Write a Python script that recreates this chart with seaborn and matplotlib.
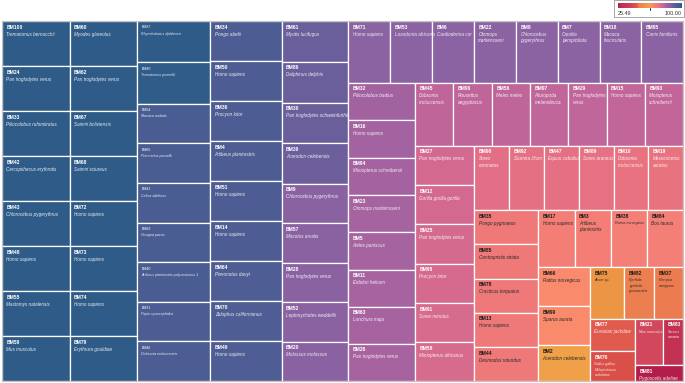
import numpy as np
import pandas as pd
import matplotlib
matplotlib.use("Agg")
import matplotlib.pyplot as plt
import seaborn as sns
from matplotlib.colors import LinearSegmentedColormap, Normalize
from matplotlib.patches import Rectangle
from matplotlib.lines import Line2D
from matplotlib.textpath import TextToPath
from matplotlib.font_manager import FontProperties

# ---------------- data ----------------
ids = [
    "BM100", "BM24", "BM33", "BM42", "BM43", "BM48", "BM55", "BM59",
    "BM60", "BM62", "BM67", "BM68", "BM72", "BM73", "BM74", "BM79",
    "BM87", "BM80", "BM54", "BM65", "BM41", "BM69", "BM40", "BM31", "BM46",
    "BM34", "BM50", "BM36", "BM4", "BM51", "BM14", "BM64", "BM70", "BM49",
    "BM61", "BM86", "BM30", "BM39", "BM9", "BM57", "BM28", "BM52", "BM20",
    "BM71", "BM53", "BM6", "BM22", "BM8", "BM7", "BM18", "BM95",
    "BM32", "BM16", "BM94", "BM23", "BM5", "BM11", "BM63", "BM26",
    "BM45", "BM96", "BM56", "BM97", "BM29", "BM15", "BM93",
    "BM27", "BM12", "BM25", "BM98", "BM91", "BM58",
    "BM90", "BM92", "BM47", "BM89", "BM10", "BM19",
    "BM35", "BM85", "BM78", "BM13", "BM44",
    "BM17", "BM3", "BM38", "BM84",
    "BM66", "BM99", "BM2",
    "BM75", "BM82", "BM37",
    "BM77", "BM76", "BM21", "BM83", "BM81",
]
species = [
    "Trematomus bernacchii", "Pan troglodytes verus", "Piliocolobus rufomitratus",
    "Cercopithecus erythrotis", "Chlorocebus pygerythrus", "Homo sapiens",
    "Mastomys natalensis", "Mus musculus",
    "Myodes glareolus", "Pan troglodytes verus", "Saimiri boliviensis",
    "Saimiri sciureus", "Homo sapiens", "Homo sapiens", "Homo sapiens",
    "Erythrura gouldiae",
    "Rhynchobatus djiddensis", "Trematomus pennellii", "Macaca mulatta",
    "Pteronotus parnellii", "Cebus albifrons", "Vicugna pacos",
    "Artibeus planirostris polyomavirus 1", "Papio cynocephalus",
    "Dobsonia moluccensis",
    "Pongo abelii", "Homo sapiens", "Procyon lotor", "Artibeus planirostris",
    "Homo sapiens", "Homo sapiens", "Pteronotus davyi", "Zalophus californianus",
    "Homo sapiens",
    "Myotis lucifugus", "Delphinus delphis", "Pan troglodytes schweinfurthii",
    "Acerodon celebensis", "Chlorocebus pygerythrus", "Microtus arvalis",
    "Pan troglodytes verus", "Leptonychotes weddellii", "Molossus molossus",
    "Homo sapiens", "Loxodonta africana", "Cardioderma cor",
    "Otomops martiensseni", "Chlorocebus pygerythrus", "Carollia perspicillata",
    "Macaca fascicularis", "Canis familiaris",
    "Piliocolobus badius", "Homo sapiens", "Miniopterus schreibersii",
    "Otomops martiensseni", "Ateles paniscus", "Eidolon helvum",
    "Lonchura maja", "Pan troglodytes verus",
    "Dobsonia moluccensis", "Rousettus aegyptiacus", "Meles meles",
    "Ailuropoda melanoleuca", "Pan troglodytes verus", "Homo sapiens",
    "Miniopterus schreibersii",
    "Pan troglodytes verus", "Gorilla gorilla gorilla", "Pan troglodytes verus",
    "Procyon lotor", "Sorex minutus", "Miniopterus africanus",
    "Sorex coronatus", "Sturnira lilium", "Equus caballus", "Sorex araneus",
    "Dobsonia moluccensis", "Mesocricetus auratus",
    "Pongo pygmaeus", "Centropristis striata", "Cracticus torquatus",
    "Homo sapiens", "Desmodus rotundus",
    "Homo sapiens", "Artibeus planirostris", "Rattus norvegicus", "Bos taurus",
    "Rattus norvegicus", "Sparus aurata", "Acerodon celebensis",
    "Anser sp.", "Pyrrhula pyrrhula griseiventris", "Pteropus vampyrus",
    "Eurasian jackdaw", "Gallus gallus; Melopsittacus undulatus",
    "Mus musculus", "Serinus canaria", "Pygoscelis adeliae",
]
values = [
    100, 100, 100, 100, 100, 100, 100, 100,
    100, 100, 100, 100, 100, 100, 100, 100,
    99.8, 99.6, 95.85, 95.75, 95.7, 95.6, 95.55, 95.5, 95.35,
    94.3, 94.2, 94.1, 94.0, 93.9, 93.8, 93.7, 93.6, 93.4,
    89.6, 89.3, 89.0, 88.7, 87.0, 86.8, 86.6, 86.3, 86.0,
    85.3, 85.2, 85.1, 85.0, 84.9, 84.85, 84.8, 84.75,
    82.3, 82.2, 82.0, 81.9, 81.8, 81.7, 81.6, 81.5,
    79.8, 79.7, 79.5, 79.4, 79.3, 79.15, 79.05,
    77.0, 76.8, 76.6, 76.5, 76.3, 76.2,
    74.0, 73.8, 73.7, 73.6, 73.4, 73.3,
    72.3, 72.15, 72.05, 71.95, 71.85,
    68.5, 68.3, 68.2, 68.0,
    66.3, 66.0, 61.2,
    57.6, 50.2, 48.6,
    48.4, 43.6, 43.4, 30.0, 25.49,
]

# ---------------- style ----------------
COLOR_STOPS = [  # (value, colour)
    (25.49, "#b41c4a"), (30.0, "#c23052"), (43.4, "#d1485c"), (43.6, "#da5049"),
    (48.4, "#e05a4e"), (48.6, "#ec7d50"), (50.2, "#eb7f4f"), (57.6, "#ec9645"),
    (61.2, "#f0a048"), (66.0, "#f98a6b"), (66.3, "#f98a6c"), (68.0, "#f47f76"),
    (68.5, "#f47e76"), (71.85, "#ef7979"), (72.3, "#ef7878"), (73.3, "#e9727f"),
    (74.0, "#e26f86"), (76.2, "#d66b8d"), (77.0, "#d3698f"), (79.05, "#c2669a"),
    (79.8, "#bf6599"), (81.5, "#a763a0"), (82.3, "#a262a0"), (84.75, "#8b62a2"),
    (87.0, "#8a62a2"), (88.7, "#6c5f9b"), (89.6, "#6a5f9b"), (93.4, "#4e5d93"),
    (95.85, "#4a5d92"), (99.6, "#305c89"), (100.0, "#2e5b88"),
]
SMALL_ALL = {"BM87", "BM80", "BM54", "BM65", "BM41", "BM69", "BM40", "BM31", "BM46"}
SMALL_SPECIES = {"BM38", "BM21", "BM83", "BM82", "BM37", "BM75", "BM76"}
ID_PT, SP_PT, SMALL_PT = 3.6, 3.3, 2.6
FONT = "Liberation Sans"

sns.set_theme(style="white")
plt.rcParams["font.family"] = [FONT, "DejaVu Sans"]

FIG_W, FIG_H, DPI = 685, 383, 100
fig = plt.figure(figsize=(FIG_W / DPI, FIG_H / DPI), dpi=DPI)
fig.patch.set_facecolor("white")

L, T, R, B = 2, 21, 683, 381
W, H = R - L, B - T
ax = fig.add_axes([L / FIG_W, 1 - B / FIG_H, W / FIG_W, H / FIG_H])
ax.set_xlim(0, W)
ax.set_ylim(H, 0)
ax.set_xticks([])
ax.set_yticks([])
for s in ax.spines.values():
    s.set_color("#c4c4c4")
    s.set_linewidth(0.8)

df = pd.DataFrame({"id": ids, "species": species, "value": values})
df = df.sort_values("value", ascending=False, kind="stable").reset_index(drop=True)


def squarify(vals, x0, y0, x1, y1, ratio=(1 + 5 ** 0.5) / 2):
    """d3.treemapSquarify algorithm."""
    n = len(vals)
    rects = [None] * n
    i0 = i1 = 0
    value = float(sum(vals))
    while i0 < n:
        dx, dy = x1 - x0, y1 - y0
        sumv = vals[i1]
        i1 += 1
        minv = maxv = sumv
        alpha = max(dy / dx, dx / dy) / (value * ratio)
        beta = sumv * sumv * alpha
        min_ratio = max(maxv / beta, beta / minv)
        while i1 < n:
            nv = vals[i1]
            sumv += nv
            minv = min(minv, nv)
            maxv = max(maxv, nv)
            beta = sumv * sumv * alpha
            new_ratio = max(maxv / beta, beta / minv)
            if new_ratio > min_ratio:
                sumv -= nv
                break
            min_ratio = new_ratio
            i1 += 1
        row = range(i0, i1)
        if dx < dy:
            ny = y0 + dy * sumv / value
            xx = x0
            for i in row:
                w = (x1 - x0) * vals[i] / sumv
                rects[i] = (xx, y0, xx + w, ny)
                xx += w
            y0 = ny
        else:
            nx = x0 + dx * sumv / value
            yy = y0
            for i in row:
                h = (y1 - y0) * vals[i] / sumv
                rects[i] = (x0, yy, nx, yy + h)
                yy += h
            x0 = nx
        value -= sumv
        i0 = i1
    return rects


rects = squarify(df["value"].tolist(), 0, 0, W, H)

vmin, vmax = df["value"].min(), df["value"].max()
norm = Normalize(vmin, vmax)
cmap = LinearSegmentedColormap.from_list(
    "tm", [((v - vmin) / (vmax - vmin), c) for v, c in COLOR_STOPS], N=8192)

ttp = TextToPath()


def text_px(s, size, style="italic", weight="normal"):
    fp = FontProperties(family=FONT, size=size, style=style, weight=weight)
    w, h, d = ttp.get_text_width_height_descent(s, fp, ismath=False)
    return w * DPI / 72


def wrap(text, avail, size):
    words = text.split(" ")
    lines = [words[0]]
    for wd in words[1:]:
        cand = lines[-1] + " " + wd
        if text_px(cand, size) <= avail:
            lines[-1] = cand
        else:
            lines.append(wd)
    return lines


def lum(c):
    def lin(u):
        return u / 12.92 if u <= 0.04045 else ((u + 0.055) / 1.055) ** 2.4
    return 0.2126 * lin(c[0]) + 0.7152 * lin(c[1]) + 0.0722 * lin(c[2])


for i, row in df.iterrows():
    x0, y0, x1, y1 = rects[i]
    col = cmap(norm(row["value"]))
    patch = Rectangle((x0, y0), x1 - x0, y1 - y0, facecolor=col,
                      edgecolor="white", linewidth=0.9)
    ax.add_patch(patch)
    dark = lum(col) > 0.32
    id_col = "#1c1c1c" if dark else "white"
    sp_col = "#2a2a2a" if dark else (1, 1, 1, 0.88)
    tx = x0 + 4.3
    tw = x1 - x0
    if row["id"] in SMALL_ALL:
        id_size, id_w, sp_size = SMALL_PT, "normal", SMALL_PT
        id_y, sp_y, sp_gap = 7.2, 13.5, 5.0
        avail = 0.85 * tw
    elif row["id"] in SMALL_SPECIES:
        id_size, id_w, sp_size = ID_PT, "bold", SMALL_PT
        id_y, sp_y, sp_gap = 7.6, 14.0, 5.4
        avail = 0.85 * tw
    else:
        id_size, id_w, sp_size = ID_PT, "bold", SP_PT
        id_y, sp_y, sp_gap = 7.6, 14.6, 6.6
        avail = tw - 2.5
    t = ax.text(tx, y0 + id_y, row["id"], fontsize=id_size, fontweight=id_w,
                color=id_col, ha="left", va="baseline", family=FONT)
    t.set_clip_path(patch)
    lines = wrap(row["species"], avail, sp_size)
    for k, ln in enumerate(lines):
        t = ax.text(tx, y0 + sp_y + k * sp_gap, ln, fontsize=sp_size,
                    fontstyle="italic", color=sp_col, ha="left",
                    va="baseline", family=FONT)
        t.set_clip_path(patch)

# ---------------- colour legend ----------------
fig.add_artist(Rectangle((614 / FIG_W, 1 - 16.7 / FIG_H), 70 / FIG_W, 16.4 / FIG_H,
                         transform=fig.transFigure, fill=False,
                         edgecolor="#9a9a9a", linewidth=0.6))
cax = fig.add_axes([618 / FIG_W, 1 - 8.2 / FIG_H, 64 / FIG_W, 5.6 / FIG_H])
grad = np.linspace(vmin, vmax, 512)[None, :]
cax.imshow(grad, aspect="auto", cmap=cmap, norm=norm,
           extent=[vmin, vmax, 0, 1], interpolation="bilinear")
cax.set_axis_off()
mid = (vmin + vmax) / 2
mx = (618 + 64 * norm(mid)) / FIG_W
fig.add_artist(Line2D([mx, mx], [1 - 8.0 / FIG_H, 1 - 9.6 / FIG_H],
                      transform=fig.transFigure, color="#222222", linewidth=0.7))
fig.text(618 / FIG_W, 1 - 14.8 / FIG_H, f"{vmin:.2f}", fontsize=3.9,
         color="#333333", ha="left", va="baseline", family=FONT)
fig.text(682 / FIG_W, 1 - 14.8 / FIG_H, f"{vmax:.2f}", fontsize=3.9,
         color="#333333", ha="right", va="baseline", family=FONT)

fig.savefig("out.png", dpi=DPI, facecolor="white")
